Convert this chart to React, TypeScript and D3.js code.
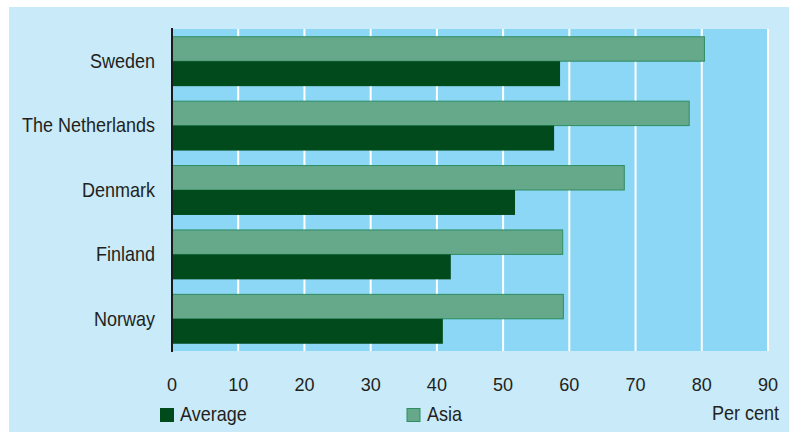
import React from "react";
import * as d3 from "d3";

const countries = ["Sweden", "The Netherlands", "Denmark", "Finland", "Norway"];
const asiaValues = [80.4, 78.1, 68.3, 59.0, 59.1];
const averageValues = [58.6, 57.7, 51.8, 42.1, 40.9];
const xTicks = [0, 10, 20, 30, 40, 50, 60, 70, 80, 90];
const seriesNames = ["Average", "Asia"];

const W = 789;
const H = 432;
const left = 172;
const right = 768;
const top = 29;
const bottom = 351;
const FONT = "'Liberation Sans', Arial, sans-serif";
const TXT = "#231f20";
const C_AVG = "#004a1c";
const C_ASIA = "#66a88a";
const C_ASIA_STROKE = "#2e8d62";

type LabelProps = {
  x: number;
  y: number;
  anchor?: "start" | "middle" | "end";
  size?: number;
  sx?: number;
  central?: boolean;
  children: React.ReactNode;
};

function Label({ x, y, anchor = "start", size = 20, sx = 0.9, central = false, children }: LabelProps) {
  return (
    <text
      transform={`translate(${x},${y}) scale(${sx},1)`}
      textAnchor={anchor}
      dominantBaseline={central ? "central" : "auto"}
      fontFamily={FONT}
      fontSize={size}
      fill={TXT}
    >
      {children}
    </text>
  );
}

export default function App() {
  const x = d3.scaleLinear().domain([0, 90]).range([left, right]);
  const y = d3
    .scaleBand<string>()
    .domain(countries)
    .range([top, bottom])
    .paddingInner(0.225)
    .paddingOuter(0.1125);
  const bw = y.bandwidth();
  const half = bw / 2;

  return (
    <svg
      width={W}
      height={H}
      style={{ position: "absolute", left: 0, top: 0, display: "block" }}
    >
      <rect x={0} y={0} width={W} height={H} fill="#ffffff" />
      <rect x={9} y={7} width={W - 9} height={H - 7} fill="#c8eaf9" />
      <rect x={left} y={top} width={right - left} height={bottom - top} fill="#8cd7f5" />
      {xTicks.slice(1).map((t) => (
        <line
          key={"g" + t}
          x1={x(t)}
          x2={x(t)}
          y1={top}
          y2={bottom}
          stroke="#ffffff"
          strokeWidth={2}
        />
      ))}
      {countries.map((c, i) => {
        const y0 = y(c) as number;
        return (
          <g key={c}>
            <rect
              x={x(0)}
              y={y0 + 0.5}
              width={x(asiaValues[i]) - x(0)}
              height={half - 0.5}
              fill={C_ASIA}
              stroke={C_ASIA_STROKE}
              strokeWidth={1}
            />
            <rect
              x={x(0)}
              y={y0 + half}
              width={x(averageValues[i]) - x(0)}
              height={half}
              fill={C_AVG}
            />
            <Label x={155} y={y0 + bw / 2} anchor="end" central>
              {c}
            </Label>
          </g>
        );
      })}
      <line x1={left} x2={left} y1={28} y2={352} stroke="#1a1a1a" strokeWidth={2} />
      {xTicks.map((t) => (
        <Label key={"t" + t} x={x(t)} y={391} anchor="middle" size={19} sx={0.95}>
          {t}
        </Label>
      ))}
      <Label x={779} y={420} anchor="end">
        Per cent
      </Label>
      <rect x={160} y={408} width={14} height={14} fill={C_AVG} />
      <Label x={180} y={421}>{seriesNames[0]}</Label>
      <rect x={407} y={408.5} width={13} height={13} fill={C_ASIA} stroke={C_ASIA_STROKE} strokeWidth={1} />
      <Label x={427} y={421}>{seriesNames[1]}</Label>
    </svg>
  );
}
